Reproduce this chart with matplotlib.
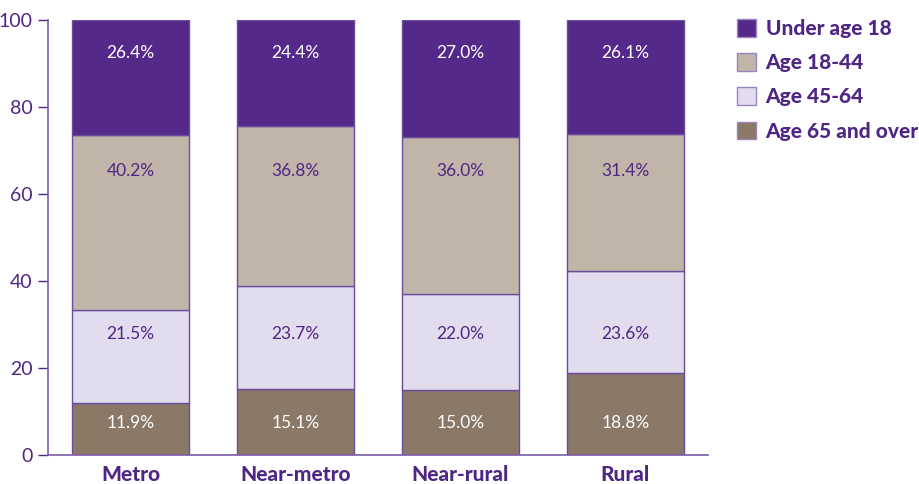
import numpy as np
import matplotlib.pyplot as plt
from matplotlib.patches import Patch

# Data
categories = ['Metro', 'Near-metro', 'Near-rural', 'Rural']
series = ['Age 65 and over', 'Age 45-64', 'Age 18-44', 'Under age 18']
age65 = [11.9, 15.1, 15.0, 18.8]
age45 = [21.5, 23.7, 22.0, 23.6]
age18 = [40.2, 36.8, 36.0, 31.4]
under18 = [26.4, 24.4, 27.0, 26.1]

purple = '#4F2683'
colors = ['#8A7967', '#E2DDEE', '#C0B5A8', '#54298A']
text_colors = ['white', purple, purple, 'white']
label_y = [7.4, 27.8, 65.2, 92.3]  # fixed label height per series

plt.rcParams['font.family'] = ['Lato', 'DejaVu Sans']

fig = plt.figure(figsize=(9.2, 4.84), dpi=100)
ax = fig.add_axes([48 / 920, 29 / 484, 660 / 920, 435 / 484])

x = np.arange(len(categories))
bottom = np.zeros(len(categories))
for vals, col, tc, ly in zip([age65, age45, age18, under18], colors, text_colors, label_y):
    ax.bar(x, vals, 0.715, bottom=bottom, color=col, edgecolor='#6A4C9C', linewidth=1.0)
    for xi, v in zip(x, vals):
        ax.text(xi, ly, f'{v:.1f}%', ha='center', va='center', color=tc, fontsize=12.5)
    bottom += np.array(vals)

ax.set_xlim(-0.5, 3.5)
ax.set_ylim(0, 100)
ax.set_yticks(np.arange(0, 101, 20))
ax.set_xticks(x)
ax.set_xticklabels(categories, fontsize=15, fontweight='black', color=purple)
ax.tick_params(axis='x', length=0, pad=7)
ax.tick_params(axis='y', colors=purple, labelsize=14, length=7, width=1, direction='out', pad=4)
for s in ['top', 'right']:
    ax.spines[s].set_visible(False)
for s in ['left', 'bottom']:
    ax.spines[s].set_color('#7B5BA8')
    ax.spines[s].set_linewidth(1.2)

# Legend (top series first)
handles = [Patch(facecolor=c, edgecolor='#9B85C0', linewidth=1) for c in colors[::-1]]
fig.legend(handles, series[::-1], loc='upper left', bbox_to_anchor=(737 / 920, 1 - 19 / 484),
           frameon=False, prop={'weight': 'black', 'size': 15},
           labelcolor=purple, handlelength=0.92, handleheight=0.92,
           handletextpad=0.45, labelspacing=0.73, borderaxespad=0, borderpad=0)

fig.savefig('out.png', dpi=100)
